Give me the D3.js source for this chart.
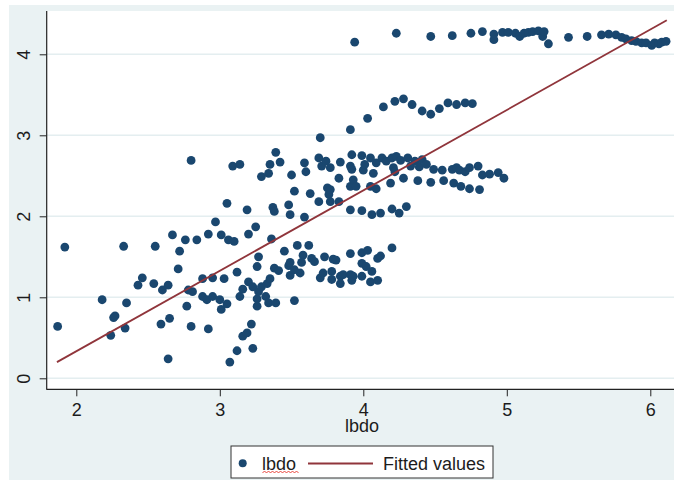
<!DOCTYPE html>
<html>
<head>
<meta charset="utf-8">
<script src="https://cdn.jsdelivr.net/npm/d3@7"></script>
<style>
  html, body { margin: 0; padding: 0; background: #ffffff; }
  svg { display: block; }
  text { font-family: Arial, "Liberation Sans", sans-serif; fill: #1c1c1c; }
</style>
</head>
<body>
<svg id="chart" width="674" height="480"></svg>
<script>
// Observations: lbdo (x) against the outcome (y)
const xValues = [
  1.87, 1.92, 2.18, 2.24, 2.27, 2.26, 2.33, 2.35, 2.34, 2.43,
  2.46, 2.54, 2.55, 2.59, 2.60, 2.64, 2.64, 2.65, 2.67, 2.71,
  2.72, 2.76, 2.77, 2.78, 2.81, 2.80, 2.80, 2.84, 2.88, 2.88,
  2.91, 2.92, 2.92, 2.95, 2.95, 2.97, 3.00, 3.01, 3.01, 3.03,
  3.05, 3.05, 3.06, 3.07, 3.09, 3.10, 3.12, 3.12, 3.14, 3.14,
  3.16, 3.16, 3.19, 3.19, 3.20, 3.20, 3.22, 3.23, 3.23, 3.25,
  3.26, 3.26, 3.27, 3.26, 3.27, 3.29, 3.29, 3.32, 3.33, 3.34,
  3.34, 3.35, 3.35, 3.36, 3.37, 3.38, 3.38, 3.39, 3.39, 3.41,
  3.42, 3.45, 3.48, 3.48, 3.49, 3.49, 3.50, 3.52, 3.52, 3.54,
  3.49, 3.56, 3.58, 3.57, 3.52, 3.59, 3.60, 3.59, 3.62, 3.63,
  3.64, 3.66, 3.69, 3.69, 3.70, 3.70, 3.71, 3.72, 3.73, 3.74,
  3.75, 3.76, 3.77, 3.77, 3.77, 3.78, 3.78, 3.79, 3.81, 3.83,
  3.83, 3.84, 3.84, 3.84, 3.86, 3.91, 3.91, 3.91, 3.91, 3.91,
  3.91, 3.92, 3.92, 3.92, 3.93, 3.93, 3.94, 3.95, 3.99, 3.99,
  3.99, 3.99, 3.99, 4.00, 4.01, 4.02, 4.03, 4.03, 4.05, 4.05,
  4.05, 4.06, 4.06, 4.07, 4.09, 4.09, 4.10, 4.10, 4.12, 4.12,
  4.13, 4.14, 4.16, 4.19, 4.20, 4.20, 4.20, 4.21, 4.22, 4.23,
  4.23, 4.22, 4.25, 4.26, 4.28, 4.28, 4.30, 4.31, 4.33, 4.34,
  4.36, 4.38, 4.39, 4.41, 4.41, 4.44, 4.47, 4.47, 4.47, 4.49,
  4.53, 4.55, 4.56, 4.59, 4.62, 4.62, 4.63, 4.65, 4.65, 4.67,
  4.68, 4.71, 4.71, 4.74, 4.75, 4.76, 4.74, 4.80, 4.81, 4.83,
  4.83, 4.88, 4.94, 4.98, 4.91, 4.91, 4.97, 5.01, 5.06, 5.09,
  5.12, 5.15, 5.18, 5.22, 5.25, 5.26, 5.29, 5.43, 5.56, 5.66,
  5.71, 5.76, 5.80, 5.83, 5.87, 5.90, 5.94, 5.97, 6.01, 6.03,
  6.06, 6.08, 6.11
];
const yValues = [
  0.64, 1.62, 0.97, 0.53, 0.77, 0.75, 1.63, 0.93, 0.62, 1.15,
  1.24, 1.17, 1.63, 0.67, 1.09, 1.15, 0.24, 0.74, 1.77, 1.35,
  1.57, 1.71, 0.89, 1.09, 1.07, 0.64, 2.69, 1.71, 1.23, 1.01,
  0.97, 1.78, 0.61, 1.24, 1.01, 1.93, 0.97, 1.77, 0.85, 1.23,
  0.92, 2.16, 1.71, 0.20, 2.62, 1.69, 0.34, 1.31, 2.64, 1.01,
  1.10, 0.52, 0.56, 2.08, 1.78, 1.19, 0.67, 0.37, 1.13, 1.87,
  0.98, 1.38, 1.50, 0.89, 1.07, 2.49, 1.13, 1.01, 1.17, 2.53,
  0.93, 2.64, 1.23, 1.72, 2.11, 2.06, 1.36, 0.93, 2.79, 1.33,
  2.67, 1.57, 2.14, 1.39, 1.27, 2.02, 2.51, 2.31, 0.96, 1.64,
  1.43, 1.30, 1.52, 1.43, 1.34, 2.66, 2.55, 1.99, 1.64, 2.28,
  1.48, 1.44, 2.72, 2.18, 2.97, 1.24, 2.62, 1.30, 1.50, 2.68,
  2.35, 2.27, 2.60, 2.33, 2.18, 1.32, 1.22, 1.47, 1.46, 2.47,
  2.18, 2.67, 1.26, 1.17, 1.28, 3.07, 2.62, 2.37, 2.08, 1.54,
  1.28, 1.21, 2.76, 2.58, 2.45, 1.26, 4.15, 2.37, 2.75, 2.07,
  1.55, 1.42, 1.26, 2.57, 2.64, 1.38, 3.21, 1.58, 2.72, 2.37,
  1.19, 2.02, 1.32, 2.53, 2.34, 2.66, 1.48, 1.21, 2.04, 1.51,
  2.72, 3.35, 2.68, 2.41, 2.72, 2.09, 1.61, 2.60, 3.42, 4.26,
  2.74, 2.55, 2.04, 2.69, 3.45, 2.47, 2.12, 2.72, 2.62, 3.38,
  2.68, 2.44, 2.61, 2.70, 3.30, 2.64, 3.26, 4.22, 2.42, 2.58,
  3.33, 2.57, 2.44, 3.40, 4.23, 2.58, 2.41, 3.38, 2.60, 2.57,
  2.37, 3.40, 2.55, 2.34, 4.26, 3.39, 2.60, 2.62, 2.33, 4.28,
  2.51, 2.52, 2.54, 2.47, 4.25, 4.18, 4.27, 4.27, 4.26, 4.22,
  4.26, 4.27, 4.28, 4.29, 4.22, 4.28, 4.13, 4.21, 4.22, 4.24,
  4.25, 4.24, 4.21, 4.19, 4.17, 4.16, 4.14, 4.14, 4.11, 4.14,
  4.13, 4.15, 4.16
];

// Linear fit, evaluated at the ends of the lbdo range
const fitX = [1.865, 6.115];
const fitY = [0.20, 4.42];

const xTicks = [2, 3, 4, 5, 6];
const yTicks = [0, 1, 2, 3, 4];
const xTitle = "lbdo";
const legendLabels = ["lbdo", "Fitted values"];

const navy = "#1a476f";
const maroon = "#90353b";
const regionFill = "#eaf2f3";

const svg = d3.select("#chart");
const W = 674, H = 480;
const plot = { left: 46.7, top: 11, right: 674, bottom: 389.3 };

const x = d3.scaleLinear().domain([2, 6]).range([76.3, 650.3]);
const y = d3.scaleLinear().domain([0, 4]).range([378.3, 54.3]);

// graph region and plot region
svg.append("rect").attr("x", 9).attr("y", 5).attr("width", W - 9).attr("height", H - 5)
  .attr("fill", regionFill);
svg.append("rect").attr("x", plot.left).attr("y", plot.top)
  .attr("width", plot.right - plot.left).attr("height", plot.bottom - plot.top)
  .attr("fill", "#ffffff");

// horizontal grid
svg.append("g").selectAll("line").data(yTicks).join("line")
  .attr("x1", plot.left).attr("x2", plot.right)
  .attr("y1", d => y(d)).attr("y2", d => y(d))
  .attr("stroke", "#e4eef0").attr("stroke-width", 1.6);

// clip marks to the plot region
svg.append("clipPath").attr("id", "plotclip").append("rect")
  .attr("x", plot.left).attr("y", plot.top)
  .attr("width", plot.right - plot.left).attr("height", plot.bottom - plot.top);

const marks = svg.append("g").attr("clip-path", "url(#plotclip)");

marks.selectAll("circle").data(d3.range(xValues.length)).join("circle")
  .attr("cx", i => x(xValues[i]))
  .attr("cy", i => y(yValues[i]))
  .attr("r", 4.4)
  .attr("fill", navy);

marks.append("path")
  .datum(d3.zip(fitX, fitY))
  .attr("d", d3.line().x(d => x(d[0])).y(d => y(d[1])))
  .attr("fill", "none").attr("stroke", maroon).attr("stroke-width", 1.8);

// axes
const xAxis = svg.append("g").attr("transform", `translate(0,${plot.bottom})`)
  .call(d3.axisBottom(x).tickValues(xTicks).tickSize(7).tickPadding(7).tickFormat(d3.format("d")));
xAxis.select(".domain").remove();
xAxis.selectAll("line").attr("stroke", "#222");
xAxis.selectAll("text").attr("font-size", 18).attr("font-family", "Arial, 'Liberation Sans', sans-serif")
  .attr("fill", "#1c1c1c");

const yAxis = svg.append("g").attr("transform", `translate(${plot.left},0)`)
  .call(d3.axisLeft(y).tickValues(yTicks).tickSize(7).tickFormat(d3.format("d")));
yAxis.select(".domain").remove();
yAxis.selectAll("line").attr("stroke", "#222");
yAxis.selectAll("text")
  .attr("x", 0).attr("dy", 0).attr("y", 0)
  .attr("text-anchor", "middle")
  .attr("transform", "translate(-16.7,0) rotate(-90)")
  .attr("font-size", 18).attr("font-family", "Arial, 'Liberation Sans', sans-serif")
  .attr("fill", "#1c1c1c");

svg.append("line").attr("x1", plot.left).attr("x2", plot.left)
  .attr("y1", plot.top).attr("y2", plot.bottom + 0.5)
  .attr("stroke", "#222").attr("stroke-width", 1.2);
svg.append("line").attr("x1", plot.left).attr("x2", plot.right)
  .attr("y1", plot.bottom).attr("y2", plot.bottom)
  .attr("stroke", "#222").attr("stroke-width", 1.2);

svg.append("text").attr("x", 362).attr("y", 432)
  .attr("text-anchor", "middle").attr("font-size", 18).text(xTitle);

// legend
const lg = svg.append("g");
lg.append("rect").attr("x", 231).attr("y", 446).attr("width", 262).attr("height", 32)
  .attr("fill", "#ffffff").attr("stroke", "#333").attr("stroke-width", 1);
lg.append("circle").attr("cx", 242.7).attr("cy", 463.3).attr("r", 4).attr("fill", navy);
lg.append("text").attr("x", 262).attr("y", 469.5).attr("font-size", 18).text(legendLabels[0]);
// spell-check squiggle under the variable name
const sq = d3.range(0, 19).map(i => [262.5 + i * 2, i % 2 ? 471 : 473]);
lg.append("path").attr("d", d3.line()(sq)).attr("fill", "none")
  .attr("stroke", "#e5332a").attr("stroke-width", 0.9);
lg.append("line").attr("x1", 308).attr("x2", 373).attr("y1", 463.5).attr("y2", 463.5)
  .attr("stroke", maroon).attr("stroke-width", 2);
lg.append("text").attr("x", 383).attr("y", 469.5).attr("font-size", 18).text(legendLabels[1]);
</script>
</body>
</html>
